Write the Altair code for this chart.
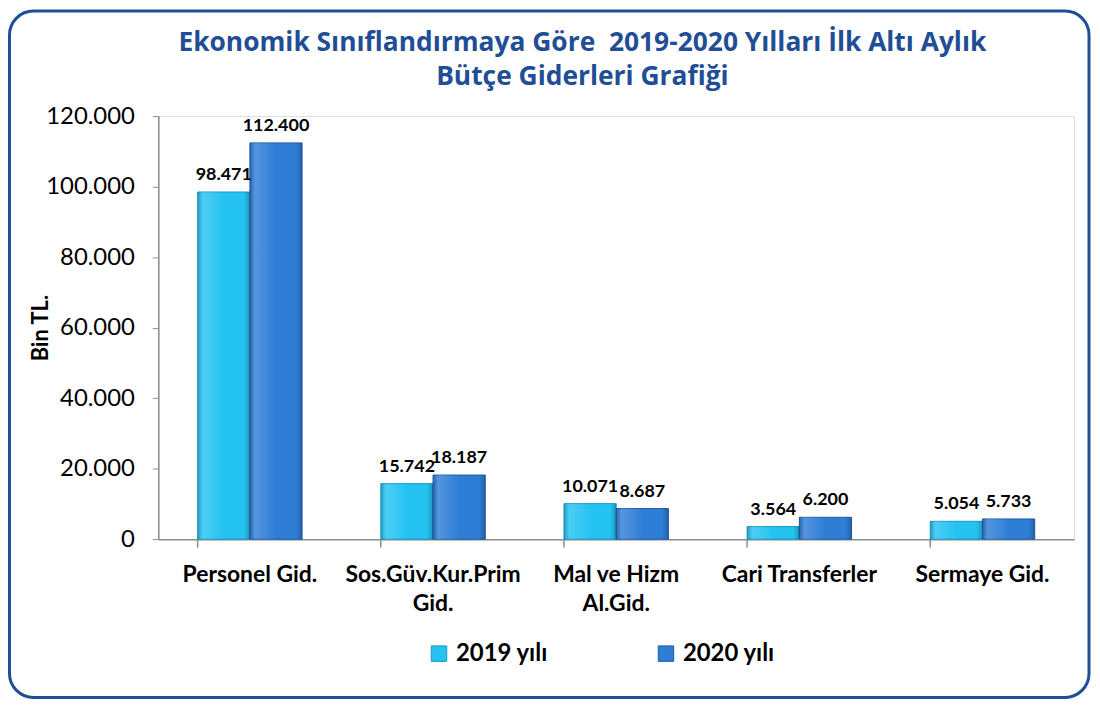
import altair as alt
import pandas as pd

categories = ["Personel Gid.", "Sos.Güv.Kur.Prim Gid.", "Mal ve Hizm Al.Gid.",
              "Cari Transferler", "Sermaye Gid."]
values_2019 = [98471, 15742, 10071, 3564, 5054]
values_2020 = [112400, 18187, 8687, 6200, 5733]
series = ["2019 yılı", "2020 yılı"]
series_colors = ["#25C3F2", "#2F7ED6"]
series_strokes = ["#1696C4", "#1F5DAA"]
y_ticks = [0, 20000, 40000, 60000, 80000, 100000, 120000]
title_lines = ["Ekonomik Sınıflandırmaya Göre\u00a0 2019-2020 Yılları İlk Altı Aylık",
               "Bütçe Giderleri Grafiği"]

rows = []
for c, a, b in zip(categories, values_2019, values_2020):
    rows.append({"kategori": c, "yil": series[0], "deger": a})
    rows.append({"kategori": c, "yil": series[1], "deger": b})
df = pd.DataFrame(rows)

FONT = "Lato"
TITLE_FONT = "Open Sans"
W, H = 920, 425

label_expr = ("datum.value == 'Sos.Güv.Kur.Prim Gid.' ? ['Sos.Güv.Kur.Prim', 'Gid.'] : "
              "datum.value == 'Mal ve Hizm Al.Gid.' ? ['Mal ve Hizm', 'Al.Gid.'] : datum.value")

x_scale = alt.Scale(paddingInner=0.43, paddingOuter=0.215)
y_scale = alt.Scale(domain=[0, 120000])

base = alt.Chart(df)

bars = base.mark_bar(strokeWidth=1).encode(
    x=alt.X("kategori:N", sort=categories, scale=x_scale,
            axis=alt.Axis(title=None, labelAngle=0, ticks=True, bandPosition=0,
                          tickSize=8, tickColor="#8C8C8C", tickWidth=1.5, domain=True,
                          domainColor="#8C8C8C", domainWidth=1.5,
                          labelExpr=label_expr, labelFont=FONT, labelFontSize=23,
                          labelFontWeight="bold", labelColor="#000000",
                          labelPadding=17, labelLineHeight=29, labelBaseline="top")),
    xOffset=alt.XOffset("yil:N", sort=series, scale=alt.Scale(paddingInner=0, paddingOuter=0)),
    y=alt.Y("deger:Q", scale=y_scale,
            axis=alt.Axis(title="Bin TL.", values=y_ticks, grid=False,
                          labelExpr="replace(format(datum.value, ','), ',', '.')",
                          labelFont=FONT, labelFontSize=24, labelColor="#000000",
                          labelPadding=18, tickSize=6, tickColor="#8C8C8C",
                          domainColor="#8C8C8C", domainWidth=1.5,
                          titleFont=FONT, titleFontSize=22, titleFontWeight="bold",
                          titleColor="#000000", titleX=-106)),
    color=alt.Color("yil:N", sort=series,
                    scale=alt.Scale(domain=series, range=series_colors),
                    legend=alt.Legend(title=None, orient="none", legendX=270, legendY=528,
                                      direction="horizontal", columns=2, columnPadding=106,
                                      symbolType="square", symbolSize=240,
                                      symbolStrokeWidth=1, labelFont=FONT,
                                      labelFontSize=24, labelFontWeight="bold",
                                      labelColor="#000000", labelOffset=5)),
    stroke=alt.Stroke("yil:N", sort=series,
                      scale=alt.Scale(domain=series, range=series_strokes), legend=None),
)

bevel = base.mark_bar(
    fill=alt.Gradient(gradient="linear", x1=0, x2=1, y1=0, y2=0,
                      stops=[alt.GradientStop(color="rgba(0,0,0,0.18)", offset=0),
                             alt.GradientStop(color="rgba(255,255,255,0.18)", offset=0.1),
                             alt.GradientStop(color="rgba(255,255,255,0.0)", offset=0.5),
                             alt.GradientStop(color="rgba(0,0,0,0.0)", offset=0.88),
                             alt.GradientStop(color="rgba(0,0,0,0.22)", offset=1)])
).encode(
    x=alt.X("kategori:N", sort=categories, scale=x_scale),
    xOffset=alt.XOffset("yil:N", sort=series),
    y=alt.Y("deger:Q", scale=y_scale),
)

labels = base.mark_text(font=FONT, fontSize=18, fontWeight="bold", color="#000000",
                        baseline="alphabetic", dy=-12).transform_calculate(
    lbl="replace(format(datum.deger, ','), ',', '.')"
).encode(
    x=alt.X("kategori:N", sort=categories, scale=x_scale),
    xOffset=alt.XOffset("yil:N", sort=series),
    y=alt.Y("deger:Q", scale=y_scale),
    text="lbl:N",
)

one = pd.DataFrame({"k": [0]})

border = alt.Chart(one).mark_rect(
    fill="transparent", stroke="#1F4E96", strokeWidth=3, cornerRadius=24
).encode(x=alt.value(-149.5), x2=alt.value(935), y=alt.value(-105.5), y2=alt.value(584))

title = alt.Chart(one).mark_text(
    font=TITLE_FONT, fontSize=26.5, fontWeight="bold", color="#1F4E96",
    align="center", baseline="middle", lineHeight=34
).encode(x=alt.value(426), y=alt.value(-73), text=alt.value(title_lines))

chart = alt.layer(border, title, bars, bevel, labels).properties(
    width=W, height=H,
    autosize=alt.AutoSizeParams(type="none"),
    padding={"left": 151, "top": 107, "right": 18, "bottom": 162},
).configure_view(strokeWidth=0).configure(background="white")

chart.save("out.html", embed_options={"renderer": "svg", "actions": False})
